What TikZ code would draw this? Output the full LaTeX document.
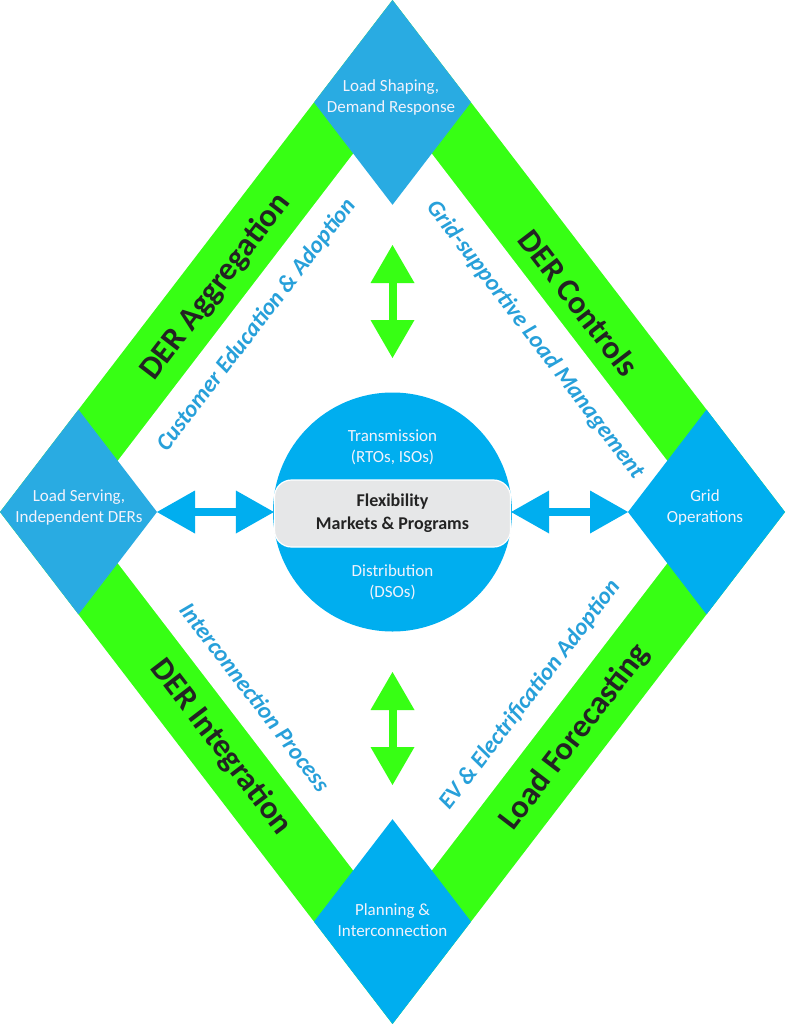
\documentclass[tikz,border=0pt]{standalone}
\usepackage{fontspec}
\setmainfont{Carlito}
\usetikzlibrary{shapes.geometric,arrows.meta}
\definecolor{bandgreen}{RGB}{55,255,20}
\definecolor{blueA}{RGB}{41,171,226}
\definecolor{blueB}{RGB}{0,174,239}
\definecolor{textblue}{RGB}{39,160,218}
\definecolor{softwhite}{RGB}{242,242,252}
\definecolor{rectgray}{RGB}{230,231,232}
\definecolor{darktext}{RGB}{35,35,35}
\begin{document}
\begin{tikzpicture}[x=1pt,y=-1pt,
  smalldia/.style={diamond, minimum width=157pt, minimum height=204.8pt, inner sep=0pt, outer sep=0pt, draw=none},
  dialabel/.style={text=softwhite, align=center, font=\fontsize{17}{21}\selectfont},
  bandlabel/.style={text=darktext, inner sep=1pt, font=\fontsize{32.5}{38}\selectfont\bfseries},
  sidelabel/.style={text=textblue, inner sep=1pt, font=\fontsize{23.5}{28}\selectfont\bfseries\itshape},
  bluearrow/.style={draw=blueB, line width=8.5pt,
    {Triangle[width=43pt,length=38pt,line width=0pt]}-{Triangle[width=43pt,length=38pt,line width=0pt]}},
  greenarrow/.style={draw=bandgreen, line width=8pt,
    {Triangle[width=44pt,length=38pt,line width=0pt]}-{Triangle[width=44pt,length=38pt,line width=0pt]}}
]
\useasboundingbox (0,0) rectangle (785,1024);
% green band
\fill[bandgreen] (392.5,0) -- (785,512) -- (392.5,1024) -- (0,512) -- cycle;
\fill[white] (392.5,102.4) -- (706.5,512) -- (392.5,921.6) -- (78.5,512) -- cycle;
% corner diamonds
\node[smalldia, fill=blueA] (top) at (392.5,102.4) {};
\node[smalldia, fill=blueA] (left) at (78.5,512) {};
\node[smalldia, fill=blueB] (right) at (706.5,512) {};
\node[smalldia, fill=blueB] (bottom) at (392.5,921.6) {};
\node[dialabel] (toplab) at (391,97.5) {Load Shaping,\\Demand Response};
\node[dialabel] (leftlab) at (79,507) {Load Serving,\\Independent DERs};
\node[dialabel] (rightlab) at (705,507) {Grid\\Operations};
\node[dialabel] (bottomlab) at (392.5,920) {Planning \&\\Interconnection};
% hub
\node[circle, fill=blueB, minimum size=239pt, inner sep=0pt] (hub) at (392.5,512) {};
\node[dialabel] (trans) at (392.5,447.5) {Transmission\\(RTOs, ISOs)};
\node[dialabel] (dist) at (392.5,582) {Distribution\\(DSOs)};
\node[draw=white, line width=1.2pt, fill=rectgray, rounded corners=17pt,
  minimum width=236pt, minimum height=67pt, inner sep=0pt, align=center,
  text=darktext, font=\fontsize{18}{23}\selectfont\bfseries] (flex) at (392.5,513.5)
  {Flexibility\\Markets \& Programs};
% band labels
\node[bandlabel, rotate=52.56] (agg) at (216,287) {DER Aggregation};
\node[bandlabel, rotate=-52.56] (ctrl) at (579,303) {DER Controls};
\node[bandlabel, rotate=-52.56] (integ) at (221,747) {DER Integration};
\node[bandlabel, rotate=52.56] (fore) at (575,737) {Load Forecasting};
% side labels
\node[sidelabel, rotate=52.56] (cust) at (256.5,325) {Customer Education \& Adoption};
\node[sidelabel, rotate=-52.56] (glm) at (535,340) {Grid-supportive Load Management};
\node[sidelabel, rotate=-52.56] (icp) at (255,697) {Interconnection Process};
\node[sidelabel, rotate=52.56] (ev) at (530,695) {EV \& Electrification Adoption};
% arrows
\coordinate (gt1) at (392.5,245);
\coordinate (gt2) at (392.5,358);
\coordinate (gb1) at (392.5,672);
\coordinate (gb2) at (392.5,785);
\draw[greenarrow] (gt1) -- (gt2);
\draw[greenarrow] (gb1) -- (gb2);
\draw[bluearrow] (left.east) -- (left.east -| flex.west);
\draw[bluearrow] (flex.east |- right.west) -- (right.west);
\end{tikzpicture}
\end{document}
